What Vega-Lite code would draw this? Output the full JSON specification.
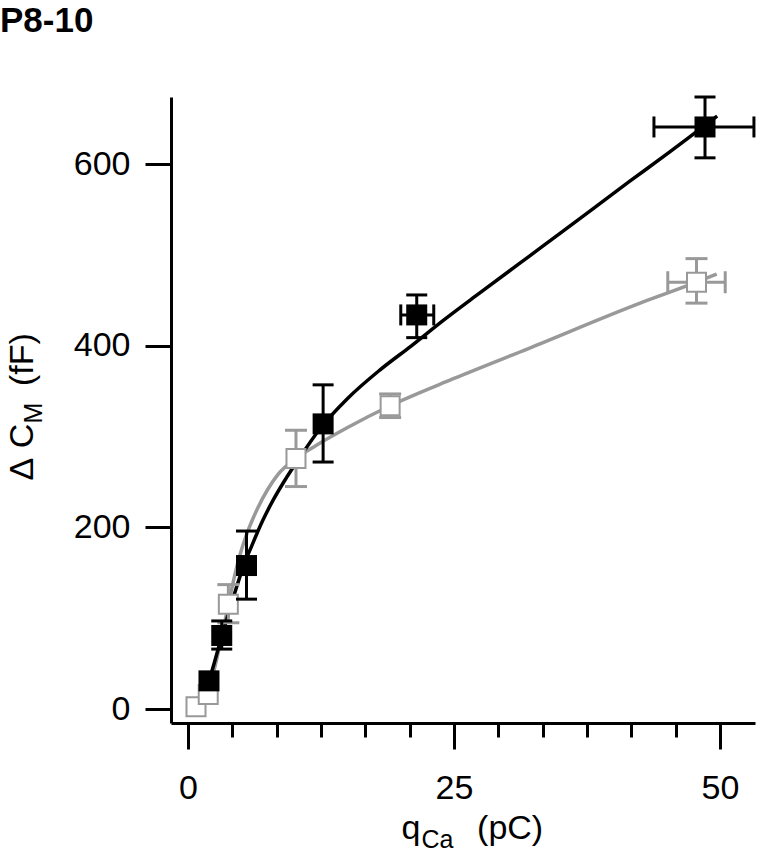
{
"$schema":"https://vega.github.io/schema/vega-lite/v6.json",
"width":584,"height":626,
"autosize":"none",
"padding":{"left":171,"top":97,"right":3,"bottom":130},
"background":"white",
"title":{"text":"P8-10","anchor":"start","frame":"group","dx":-171,"offset":29,"baseline":"alphabetic","font":"Liberation Sans","fontSize":35,"fontWeight":"bold","color":"black"},
"config":{"view":{"stroke":null},"axis":{"grid":false,"labelFont":"Liberation Sans","titleFont":"Liberation Sans","labelColor":"black","titleColor":"black","domainColor":"black","tickColor":"black","titleFontWeight":"normal"}},
"datasets":{
"pts":[
{"s":"f","x":1.97,"y":31},
{"s":"f","x":3.17,"y":81,"ylo":66,"yhi":97},
{"s":"f","x":5.5,"y":158,"ylo":121,"yhi":196},
{"s":"f","x":12.7,"y":314,"ylo":272,"yhi":357},
{"s":"f","x":21.5,"y":434,"ylo":409,"yhi":456,"xlo":20.0,"xhi":23.1},
{"s":"f","x":48.6,"y":641,"ylo":607,"yhi":674,"xlo":43.8,"xhi":53.2},
{"s":"o","x":0.75,"y":2.5},
{"s":"o","x":1.9,"y":16},
{"s":"o","x":3.79,"y":115.5,"ylo":95,"yhi":137},
{"s":"o","x":10.15,"y":276,"ylo":245,"yhi":307},
{"s":"o","x":19.0,"y":334,"ylo":321,"yhi":347},
{"s":"o","x":47.8,"y":470,"ylo":447,"yhi":496,"xlo":45.1,"xhi":50.5}
],
"curves":[
{"s":"f","x":1.6,"y":17},{"s":"f","x":2,"y":32},{"s":"f","x":2.5,"y":52},{"s":"f","x":3.17,"y":80},{"s":"f","x":4,"y":113},{"s":"f","x":4.5,"y":132},{"s":"f","x":5,"y":150},{"s":"f","x":5.5,"y":166},{"s":"f","x":6,"y":180},{"s":"f","x":7,"y":207},{"s":"f","x":8,"y":230},{"s":"f","x":9,"y":250},{"s":"f","x":10.5,"y":277},{"s":"f","x":12.5,"y":310},{"s":"f","x":15,"y":342},{"s":"f","x":18,"y":373},{"s":"f","x":21,"y":400},{"s":"f","x":24,"y":428},{"s":"f","x":27.4,"y":458},{"s":"f","x":32,"y":498},{"s":"f","x":35,"y":524},{"s":"f","x":41.5,"y":581},{"s":"f","x":45,"y":611},{"s":"f","x":49.75,"y":653},
{"s":"o","x":0.75,"y":2},{"s":"o","x":1.3,"y":8},{"s":"o","x":1.9,"y":18},{"s":"o","x":2.5,"y":45},{"s":"o","x":3,"y":71},{"s":"o","x":3.5,"y":98},{"s":"o","x":3.79,"y":115},{"s":"o","x":4.1,"y":132},{"s":"o","x":4.7,"y":162},{"s":"o","x":5.5,"y":192},{"s":"o","x":6.5,"y":220},{"s":"o","x":7.5,"y":242},{"s":"o","x":8.5,"y":259},{"s":"o","x":10.15,"y":276},{"s":"o","x":12,"y":290},{"s":"o","x":15,"y":310},{"s":"o","x":19,"y":334},{"s":"o","x":25,"y":364},{"s":"o","x":32,"y":397},{"s":"o","x":42.5,"y":447},{"s":"o","x":47.8,"y":470},{"s":"o","x":49.7,"y":479}
]},
"resolve":{"axis":{"x":"independent","y":"independent"}},
"layer":[
{"data":{"name":"curves"},"transform":[{"filter":"datum.s=='o'"}],
 "mark":{"type":"line","color":"#999999","strokeWidth":3.5,"interpolate":"monotone"},
 "encoding":{
  "x":{"field":"x","type":"quantitative","scale":{"domain":[-1.6,53.3],"nice":false,"zero":false},
   "axis":{"orient":"bottom","values":[0,4.1667,8.3333,12.5,16.6667,20.8333,25,29.1667,33.3333,37.5,41.6667,45.8333,50],"format":"d","labelExpr":"datum.value % 25 == 0 ? datum.label : ''","tickSize":{"condition":{"test":"datum.value % 25 == 0","value":26},"value":14},"tickWidth":3,"domainWidth":3,"labelFontSize":34,"labelPadding":22,"labelOverlap":false,"labelFlush":false,"labelBound":false,"title":"q\u00a0\u00a0\u00a0\u00a0\u00a0\u00a0(pC)","titleFontSize":34,"titleAlign":"left","titleAnchor":"start","titleBaseline":"alphabetic","titleX":230,"titleY":115}},
  "y":{"field":"y","type":"quantitative","scale":{"domain":[-15.4,674],"nice":false,"zero":false},
   "axis":{"orient":"left","values":[0,200,400,600],"format":"d","tickSize":26,"tickWidth":3,"domainWidth":3,"labelFontSize":34,"labelPadding":15,"labelFlush":false,"labelOverlap":false,"title":"Δ\u00a0C\u00a0\u00a0\u00a0\u00a0(fF)","titleFontSize":34,"titleAngle":270,"titleAlign":"left","titleAnchor":"start","titleBaseline":"alphabetic","titleX":-139,"titleY":383}}
 }},
{"data":{"name":"curves"},"transform":[{"filter":"datum.s=='f'"}],
 "mark":{"type":"line","color":"black","strokeWidth":3.5,"interpolate":"monotone"},
 "encoding":{
  "x":{"field":"x","type":"quantitative","scale":{"domain":[-1.6,53.3],"nice":false,"zero":false},"axis":null},
  "y":{"field":"y","type":"quantitative","scale":{"domain":[-15.4,674],"nice":false,"zero":false},"axis":null}
 }},
{"data":{"name":"pts"},
 "mark":{"type":"point","opacity":0},
 "encoding":{
  "x":{"field":"x","type":"quantitative","scale":{"domain":[-1.6,53.3],"nice":false,"zero":false},
   "axis":{"orient":"bottom","domain":false,"ticks":false,"labels":false,"title":"Ca","titleFontSize":25,"titleAlign":"left","titleAnchor":"start","titleBaseline":"alphabetic","titleX":250,"titleY":124}},
  "y":{"field":"y","type":"quantitative","scale":{"domain":[-15.4,674],"nice":false,"zero":false},
   "axis":{"orient":"left","domain":false,"ticks":false,"labels":false,"title":"M","titleFontSize":25,"titleAngle":270,"titleAlign":"left","titleAnchor":"start","titleBaseline":"alphabetic","titleX":-130,"titleY":326}}
 }},
{"data":{"name":"pts"},"transform":[{"filter":"datum.s=='o' && isValid(datum.ylo)"}],
 "mark":{"type":"rule","color":"#999999","strokeWidth":3},
 "encoding":{
  "x":{"field":"x","type":"quantitative","scale":{"domain":[-1.6,53.3],"nice":false,"zero":false},"axis":null},
  "y":{"field":"ylo","type":"quantitative","scale":{"domain":[-15.4,674],"nice":false,"zero":false},"axis":null},
  "y2":{"field":"yhi"}
 }},
{"data":{"name":"pts"},"transform":[{"filter":"datum.s=='o' && isValid(datum.ylo)"},{"fold":["ylo","yhi"],"as":["k","v"]}],
 "mark":{"type":"tick","orient":"horizontal","color":"#999999","size":22,"thickness":3,"opacity":1},
 "encoding":{
  "x":{"field":"x","type":"quantitative","scale":{"domain":[-1.6,53.3],"nice":false,"zero":false},"axis":null},
  "y":{"field":"v","type":"quantitative","scale":{"domain":[-15.4,674],"nice":false,"zero":false},"axis":null}
 }},
{"data":{"name":"pts"},"transform":[{"filter":"datum.s=='o' && isValid(datum.xlo)"}],
 "mark":{"type":"rule","color":"#999999","strokeWidth":3},
 "encoding":{
  "x":{"field":"xlo","type":"quantitative","scale":{"domain":[-1.6,53.3],"nice":false,"zero":false},"axis":null},
  "x2":{"field":"xhi"},
  "y":{"field":"y","type":"quantitative","scale":{"domain":[-15.4,674],"nice":false,"zero":false},"axis":null}
 }},
{"data":{"name":"pts"},"transform":[{"filter":"datum.s=='o' && isValid(datum.xlo)"},{"fold":["xlo","xhi"],"as":["k","v"]}],
 "mark":{"type":"tick","orient":"vertical","color":"#999999","size":22,"thickness":3,"opacity":1},
 "encoding":{
  "x":{"field":"v","type":"quantitative","scale":{"domain":[-1.6,53.3],"nice":false,"zero":false},"axis":null},
  "y":{"field":"y","type":"quantitative","scale":{"domain":[-15.4,674],"nice":false,"zero":false},"axis":null}
 }},
{"data":{"name":"pts"},"transform":[{"filter":"datum.s=='o'"}],
 "mark":{"type":"point","shape":"square","filled":false,"fill":"white","stroke":"#999999","strokeWidth":2,"size":361,"opacity":1},
 "encoding":{
  "x":{"field":"x","type":"quantitative","scale":{"domain":[-1.6,53.3],"nice":false,"zero":false},"axis":null},
  "y":{"field":"y","type":"quantitative","scale":{"domain":[-15.4,674],"nice":false,"zero":false},"axis":null}
 }},
{"data":{"name":"pts"},"transform":[{"filter":"datum.s=='f' && isValid(datum.ylo)"}],
 "mark":{"type":"rule","color":"black","strokeWidth":3},
 "encoding":{
  "x":{"field":"x","type":"quantitative","scale":{"domain":[-1.6,53.3],"nice":false,"zero":false},"axis":null},
  "y":{"field":"ylo","type":"quantitative","scale":{"domain":[-15.4,674],"nice":false,"zero":false},"axis":null},
  "y2":{"field":"yhi"}
 }},
{"data":{"name":"pts"},"transform":[{"filter":"datum.s=='f' && isValid(datum.ylo)"},{"fold":["ylo","yhi"],"as":["k","v"]}],
 "mark":{"type":"tick","orient":"horizontal","color":"black","size":21,"thickness":3,"opacity":1},
 "encoding":{
  "x":{"field":"x","type":"quantitative","scale":{"domain":[-1.6,53.3],"nice":false,"zero":false},"axis":null},
  "y":{"field":"v","type":"quantitative","scale":{"domain":[-15.4,674],"nice":false,"zero":false},"axis":null}
 }},
{"data":{"name":"pts"},"transform":[{"filter":"datum.s=='f' && isValid(datum.xlo)"}],
 "mark":{"type":"rule","color":"black","strokeWidth":3},
 "encoding":{
  "x":{"field":"xlo","type":"quantitative","scale":{"domain":[-1.6,53.3],"nice":false,"zero":false},"axis":null},
  "x2":{"field":"xhi"},
  "y":{"field":"y","type":"quantitative","scale":{"domain":[-15.4,674],"nice":false,"zero":false},"axis":null}
 }},
{"data":{"name":"pts"},"transform":[{"filter":"datum.s=='f' && isValid(datum.xlo)"},{"fold":["xlo","xhi"],"as":["k","v"]}],
 "mark":{"type":"tick","orient":"vertical","color":"black","size":21,"thickness":3,"opacity":1},
 "encoding":{
  "x":{"field":"v","type":"quantitative","scale":{"domain":[-1.6,53.3],"nice":false,"zero":false},"axis":null},
  "y":{"field":"y","type":"quantitative","scale":{"domain":[-15.4,674],"nice":false,"zero":false},"axis":null}
 }},
{"data":{"name":"pts"},"transform":[{"filter":"datum.s=='f'"}],
 "mark":{"type":"point","shape":"square","filled":true,"color":"black","size":441,"opacity":1},
 "encoding":{
  "x":{"field":"x","type":"quantitative","scale":{"domain":[-1.6,53.3],"nice":false,"zero":false},"axis":null},
  "y":{"field":"y","type":"quantitative","scale":{"domain":[-15.4,674],"nice":false,"zero":false},"axis":null}
 }}
]
}
